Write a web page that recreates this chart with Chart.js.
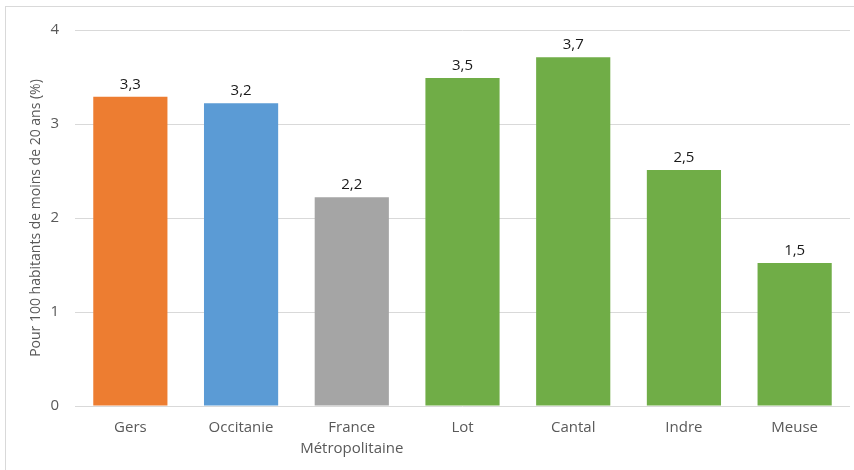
<!DOCTYPE html>
<html><head><meta charset="utf-8">
<script src="https://cdn.jsdelivr.net/npm/chart.js@4"></script>
<style>
html,body{margin:0;padding:0;background:#fff;overflow:hidden}
#frame{position:absolute;left:5px;top:6px;width:870px;height:480px;border:1px solid #d9d9d9}
#wrap{position:absolute;left:0;top:0;width:854px;height:470px}
</style></head><body>
<div id="frame"></div>
<div id="wrap"><canvas id="c" width="854" height="470"></canvas></div>
<script>
const categories = ["Gers", "Occitanie", ["France", "Métropolitaine"], "Lot", "Cantal", "Indre", "Meuse"];
const values = [3.29, 3.22, 2.22, 3.49, 3.71, 2.51, 1.52];
const labelsShown = ["3,3", "3,2", "2,2", "3,5", "3,7", "2,5", "1,5"];
const barColors = ["#ED7D31", "#5B9BD5", "#A5A5A5", "#70AD47", "#70AD47", "#70AD47", "#70AD47"];
const yTicks = [0, 1, 2, 3, 4];
const yTitle = "Pour 100 habitants de moins de 20 ans (%)";

const FONT = "'Open Sans', sans-serif";

const valueLabels = {
  id: 'valueLabels',
  afterDatasetsDraw(chart) {
    const ctx = chart.ctx;
    const meta = chart.getDatasetMeta(0);
    ctx.save();
    ctx.font = "15px " + FONT;
    ctx.fillStyle = "#1a1a1a";
    ctx.textAlign = "center";
    ctx.textBaseline = "alphabetic";
    meta.data.forEach((bar, i) => {
      ctx.fillText(labelsShown[i], bar.x, bar.y - 8);
    });
    ctx.restore();
  }
};

new Chart(document.getElementById('c'), {
  type: 'bar',
  data: {
    labels: categories,
    datasets: [{
      data: values,
      backgroundColor: barColors,
      borderWidth: 0,
      barPercentage: 0.67,
      categoryPercentage: 1.0
    }]
  },
  options: {
    responsive: false,
    animation: false,
    devicePixelRatio: 1,
    layout: { padding: { top: 30, right: 4, left: 0, bottom: 0 } },
    plugins: { legend: { display: false }, tooltip: { enabled: false } },
    scales: {
      x: {
        grid: { display: false, drawTicks: false },
        border: { display: false },
        ticks: { color: "#595959", font: { size: 15, family: FONT, lineHeight: 1.35 }, padding: 12, maxRotation: 0, autoSkip: false },
        afterFit(s) { s.height = 64; }
      },
      y: {
        min: 0, max: 4,
        afterBuildTicks(s) { s.ticks = yTicks.map(v => ({ value: v })); },
        grid: { color: "#d9d9d9", drawTicks: false, lineWidth: 1 },
        border: { display: false },
        ticks: { color: "#595959", font: { size: 15, family: FONT }, padding: 16 },
        title: { display: true, text: yTitle, color: "#595959", font: { size: 14, family: FONT }, padding: { top: 28, bottom: 0 } },
        afterFit(s) { s.width = 75; }
      }
    }
  },
  plugins: [valueLabels]
});
</script>
</body></html>
